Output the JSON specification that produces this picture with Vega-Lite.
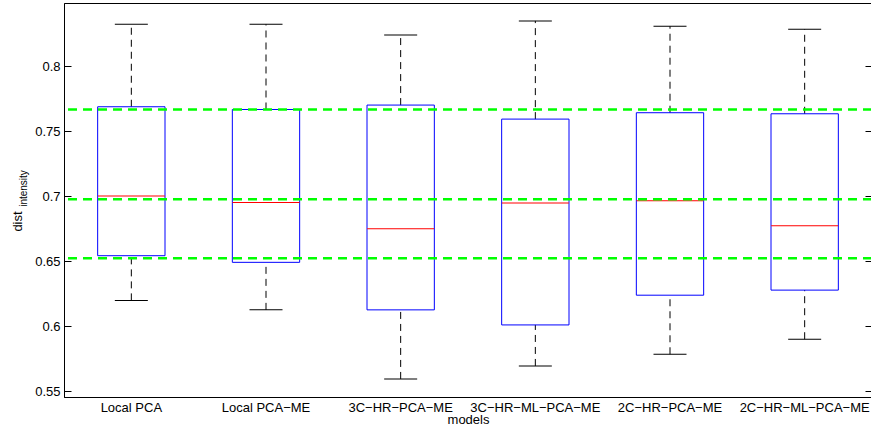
{
  "$schema": "https://vega.github.io/schema/vega-lite/v6.json",
  "width": 808,
  "height": 394,
  "autosize": {"type": "none"},
  "padding": {"left": 64, "top": 3, "right": 0, "bottom": 31},
  "background": "white",
  "datasets": {
    "stats": [
      {"model": "Local PCA", "lower": 0.6198, "q1": 0.6542, "median": 0.7002, "q3": 0.7689, "upper": 0.8324},
      {"model": "Local PCA−ME", "lower": 0.6125, "q1": 0.6491, "median": 0.6951, "q3": 0.7668, "upper": 0.8324},
      {"model": "3C−HR−PCA−ME", "lower": 0.5593, "q1": 0.6125, "median": 0.6750, "q3": 0.7702, "upper": 0.8242},
      {"model": "3C−HR−ML−PCA−ME", "lower": 0.5693, "q1": 0.6009, "median": 0.6948, "q3": 0.7594, "upper": 0.8350},
      {"model": "2C−HR−PCA−ME", "lower": 0.5783, "q1": 0.6238, "median": 0.6966, "q3": 0.7643, "upper": 0.8309},
      {"model": "2C−HR−ML−PCA−ME", "lower": 0.5899, "q1": 0.6277, "median": 0.6773, "q3": 0.7635, "upper": 0.8286}
    ],
    "refs": [
      {"level": 0.7668},
      {"level": 0.6977},
      {"level": 0.6522}
    ]
  },
  "layer": [
    {
      "data": {"name": "stats"},
      "encoding": {
        "x": {
          "field": "model",
          "type": "nominal",
          "sort": null,
          "title": "models",
          "scale": {"paddingInner": 0, "paddingOuter": 0},
          "axis": {
            "ticks": false,
            "labelPadding": 4,
            "labelAngle": 0,
            "titleY": 26,
            "titleBaseline": "alphabetic",
            "titleFontSize": 13
          }
        }
      },
      "layer": [
        {
          "mark": {"type": "rule", "color": "black", "strokeWidth": 1, "strokeDash": [7, 5]},
          "encoding": {
            "y": {
              "field": "q3",
              "type": "quantitative",
              "title": "dist",
              "scale": {"domain": [0.5454, 0.8488], "nice": false, "zero": false},
              "axis": {
                "values": [0.55, 0.6, 0.65, 0.7, 0.75, 0.8],
                "format": "~g",
                "tickSize": -7,
                "labelPadding": 11,
                "titleFontSize": 13,
                "titleAngle": -90,
                "titleX": -43,
                "titleY": 218,
                "titleBaseline": "alphabetic",
                "titleAlign": "center"
              }
            },
            "y2": {"field": "upper"}
          }
        },
        {
          "mark": {"type": "rule", "color": "black", "strokeWidth": 1, "strokeDash": [7, 5]},
          "encoding": {
            "y": {"field": "lower", "type": "quantitative", "title": "dist"},
            "y2": {"field": "q1"}
          }
        },
        {
          "mark": {"type": "tick", "orient": "horizontal", "size": 33, "thickness": 1, "color": "black", "opacity": 1},
          "encoding": {
            "y": {"field": "upper", "type": "quantitative", "title": "dist"}
          }
        },
        {
          "mark": {"type": "tick", "orient": "horizontal", "size": 33, "thickness": 1, "color": "black", "opacity": 1},
          "encoding": {
            "y": {"field": "lower", "type": "quantitative", "title": "dist"}
          }
        },
        {
          "mark": {"type": "bar", "fill": "white", "fillOpacity": 0, "stroke": "#0000ff", "strokeWidth": 1, "width": {"band": 0.5}},
          "encoding": {
            "y": {"field": "q1", "type": "quantitative", "title": "dist"},
            "y2": {"field": "q3"}
          }
        },
        {
          "mark": {"type": "tick", "orient": "horizontal", "size": 67, "thickness": 1, "color": "#ff0000", "opacity": 1},
          "encoding": {
            "y": {"field": "median", "type": "quantitative", "title": "dist"}
          }
        }
      ]
    },
    {
      "data": {"name": "refs"},
      "mark": {"type": "rule", "color": "#00ff00", "strokeWidth": 2.5, "strokeDash": [9, 6]},
      "encoding": {
        "y": {
          "field": "level",
          "type": "quantitative",
          "title": "intensity",
          "axis": {
            "orient": "right",
            "values": [0.55, 0.6, 0.65, 0.7, 0.75, 0.8],
            "labels": false,
            "domain": false,
            "tickSize": -7,
            "titleFontSize": 10,
            "titleAngle": -90,
            "titleX": -846,
            "titleY": 185,
            "titleBaseline": "alphabetic",
            "titleAlign": "center"
          }
        }
      }
    }
  ],
  "resolve": {"axis": {"y": "independent"}},
  "config": {
    "font": "Liberation Sans",
    "view": {"stroke": "black", "strokeWidth": 1},
    "axis": {
      "labelFont": "Liberation Sans",
      "labelFontSize": 13,
      "labelColor": "black",
      "titleFont": "Liberation Sans",
      "titleFontWeight": "normal",
      "titleColor": "black",
      "grid": false,
      "domainColor": "black",
      "tickColor": "black"
    }
  }
}
